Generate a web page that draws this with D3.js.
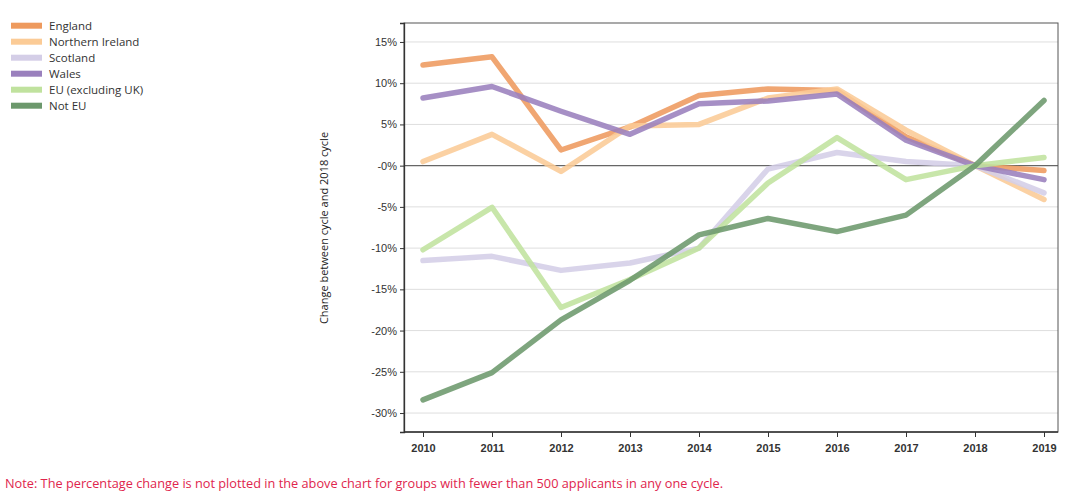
<!DOCTYPE html>
<html><head><meta charset="utf-8">
<script src="https://cdn.jsdelivr.net/npm/d3@7"></script>
<style>body{margin:0;background:#fff;}svg{display:block;font-family:"Open Sans","Liberation Sans",sans-serif;}</style>
</head><body>
<svg id="c" width="1065" height="500"></svg>
<script>
const years = [2010,2011,2012,2013,2014,2015,2016,2017,2018,2019];
const seriesNames = ["England","Northern Ireland","Scotland","Wales","EU (excluding UK)","Not EU"];
const england  = [12.2,13.2,1.9,4.7,8.5,9.3,9.1,3.5,0,-0.6];
const nIreland = [0.5,3.8,-0.7,4.8,5.0,8.2,9.3,4.3,0,-4.1];
const scotland = [-11.5,-11.0,-12.7,-11.8,-10.0,-0.4,1.6,0.5,0,-3.3];
const wales    = [8.2,9.6,6.6,3.8,7.5,7.85,8.7,3.1,0,-1.7];
const euExUK   = [-10.2,-5.05,-17.2,-13.8,-10.0,-2.1,3.4,-1.7,0,1.0];
const notEU    = [-28.4,-25.1,-18.7,-13.9,-8.4,-6.4,-8.0,-6.0,0,7.9];
const yTicks = [15,10,5,0,-5,-10,-15,-20,-25,-30];
const colors = ["#EE9A5E","#FBCB96","#D4CEE7","#9A80BD","#C0E29E","#6C986C"];
const allSeries = [england,nIreland,scotland,wales,euExUK,notEU];

const svg = d3.select("#c");
const L=404, R=1058, T=23, B=432;
const x = d3.scalePoint().domain(years).range([423,1044]);
const y = d3.scaleLinear().domain([-32.3,17.3]).range([B,T]);

// gridlines
svg.append("g").selectAll("line").data(yTicks.filter(d=>d!==0)).join("line")
  .attr("x1",L).attr("x2",R).attr("y1",d=>y(d)).attr("y2",d=>y(d))
  .attr("stroke","#dedede").attr("stroke-width",1);

// zero line
svg.append("line").attr("x1",L).attr("x2",R).attr("y1",y(0)).attr("y2",y(0))
  .attr("stroke","#666").attr("stroke-width",1.2);

// frame
svg.append("rect").attr("x",L).attr("y",T).attr("width",R-L).attr("height",B-T)
  .attr("fill","none").attr("stroke","#555").attr("stroke-width",1);

// y axis
const yAxis = d3.axisLeft(y).tickValues(yTicks).tickSize(4).tickPadding(3)
  .tickFormat(d=> d===0 ? "-0%" : d+"%");
const gy = svg.append("g").attr("transform",`translate(${L},0)`).call(yAxis);
gy.select(".domain").attr("stroke","#333").attr("stroke-width",1.3);
gy.selectAll("text").attr("font-size",11).attr("fill","#333");
gy.selectAll(".tick line").attr("stroke","#333");

// x axis
const xAxis = d3.axisBottom(x).tickSize(5).tickPadding(7);
const gx = svg.append("g").attr("transform",`translate(0,${B})`).call(xAxis);
gx.select(".domain").attr("d",`M${L},0H${R}`).attr("stroke","#333").attr("stroke-width",1.3);
gx.selectAll("text").attr("font-size",11).attr("font-weight",600).attr("fill","#333");
gx.selectAll(".tick line").attr("stroke","#333");

// lines
const line = d3.line().x((d,i)=>x(years[i])).y(d=>y(d));
svg.append("g").selectAll("path").data(allSeries).join("path")
  .attr("d",line).attr("fill","none")
  .attr("stroke",(d,i)=>colors[i]).attr("stroke-width",5.5)
  .attr("stroke-linejoin","round").attr("stroke-linecap","round")
  .attr("opacity",0.88);

// y title
svg.append("text").attr("transform","translate(328,228) rotate(-90)")
  .attr("text-anchor","middle").attr("font-size",11).attr("fill","#222")
  .text("Change between cycle and 2018 cycle");

// legend
const lg = svg.append("g").selectAll("g").data(seriesNames).join("g")
  .attr("transform",(d,i)=>`translate(11,${25.7+i*16})`);
lg.append("rect").attr("x",0).attr("y",-3).attr("width",31).attr("height",6)
  .attr("fill",(d,i)=>colors[i]);
lg.append("text").attr("x",38).attr("y",4).attr("font-size",11.5).attr("fill","#333").text(d=>d);

// note
svg.append("text").attr("x",5).attr("y",488).attr("font-size",12.5).attr("fill","#E0254D")
  .attr("textLength",718).attr("lengthAdjust","spacingAndGlyphs")
  .text("Note: The percentage change is not plotted in the above chart for groups with fewer than 500 applicants in any one cycle.");
</script>
</body></html>
